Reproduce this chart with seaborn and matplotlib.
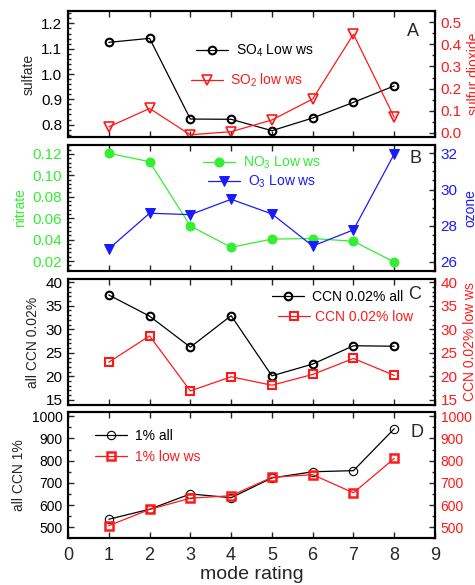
import seaborn as sns
import matplotlib.pyplot as plt
from matplotlib.ticker import MultipleLocator

sns.set_style("ticks")
plt.rcParams['font.family'] = ['Liberation Sans', 'DejaVu Sans']
plt.rcParams['mathtext.fontset'] = 'custom'
plt.rcParams['mathtext.rm'] = 'Liberation Sans'
plt.rcParams['mathtext.it'] = 'Liberation Sans:italic'

GREEN = '#33ee33'
RED = '#ff1a1a'
BLUE = '#1a1aff'

# data
mode = [1, 2, 3, 4, 5, 6, 7, 8]
sulfate = [1.125, 1.141, 0.822, 0.821, 0.776, 0.826, 0.888, 0.953]
so2 = [0.027, 0.110, -0.009, 0.005, 0.058, 0.153, 0.446, 0.070]
nitrate = [0.1206, 0.1128, 0.0527, 0.0328, 0.0405, 0.0410, 0.0385, 0.0190]
ozone = [26.72, 28.69, 28.61, 29.46, 28.65, 26.88, 27.77, 31.96]
ccn002_all = [37.3, 32.8, 26.2, 32.9, 20.1, 22.6, 26.5, 26.4]
ccn002_low = [23.0, 28.6, 16.9, 19.9, 18.1, 20.4, 23.8, 20.2]
ccn1_all = [536, 581, 650, 633, 722, 750, 755, 944]
ccn1_low = [507, 580, 631, 642, 725, 737, 655, 810]
xticks = [0, 1, 2, 3, 4, 5, 6, 7, 8, 9]

fig = plt.figure(figsize=(4.75, 5.85), dpi=100)
L, W, H = 0.1432, 0.7726, 0.2154
bottoms = [0.7658, 0.5368, 0.3077, 0.0798]


def style(ax, ax2, lcol, rcol, fs=11):
    for a in (ax, ax2):
        for s in a.spines.values():
            s.set_linewidth(1.5)
            s.set_color('black')
    ax.set_xlim(0, 9)
    ax.set_xticks(xticks)
    ax.tick_params(axis='x', direction='in', top=True, bottom=True,
                   length=4.5, width=1, labelbottom=False)
    ax.tick_params(axis='y', which='both', direction='in', left=True, right=False,
                   labelcolor=lcol, labelsize=fs, width=1, pad=4)
    ax2.tick_params(axis='y', which='both', direction='in', right=True, left=False,
                    labelcolor=rcol, labelsize=fs, width=1, pad=4)
    for a in (ax, ax2):
        a.tick_params(axis='y', which='major', length=4.5)
        a.tick_params(axis='y', which='minor', length=2.2)


def leg(a, label, x, y, tpad=0.6):
    a.legend(handles=[a.lines[-1]], labels=[label], loc='center left',
             bbox_to_anchor=(x, y), frameon=False, borderpad=0, borderaxespad=0,
             handlelength=2.3, handletextpad=tpad, fontsize=10, labelcolor='linecolor')


# ---- A: sulfate / SO2
ax = fig.add_axes([L, bottoms[0], W, H])
ax2 = ax.twinx()
sns.lineplot(x=mode, y=sulfate, ax=ax, color='black', lw=0.9, marker='o', ms=5.5,
             mfc='none', mec='black', mew=1.5)
sns.lineplot(x=mode, y=so2, ax=ax2, color=RED, lw=0.9, marker='v', ms=6.5,
             mfc='none', mec=RED, mew=1.2)
ax.set_ylim(0.751, 1.249)
ax2.set_ylim(-0.019, 0.551)
ax.yaxis.set_major_locator(MultipleLocator(0.1))
ax.yaxis.set_minor_locator(MultipleLocator(0.02))
ax2.yaxis.set_major_locator(MultipleLocator(0.1))
ax2.yaxis.set_minor_locator(MultipleLocator(0.05))
style(ax, ax2, 'black', RED)
leg(ax, 'SO$_4$ Low ws', 0.349, 0.685)
leg(ax2, 'SO$_2$ low ws', 0.335, 0.447, 0.5)
ax.set_ylabel('sulfate', fontsize=10)
ax2.set_ylabel('sulfur dioxide', fontsize=10, color=RED)
ax.text(0.941, 0.836, 'A', transform=ax.transAxes, ha='center', va='center', fontsize=13)

# ---- B: nitrate / ozone
ax = fig.add_axes([L, bottoms[1], W, H])
ax2 = ax.twinx()
sns.lineplot(x=mode, y=nitrate, ax=ax, color=GREEN, lw=0.9, marker='o', ms=6.5,
             mfc=GREEN, mec=GREEN, mew=0.7)
sns.lineplot(x=mode, y=ozone, ax=ax2, color=BLUE, lw=0.9, marker='v', ms=7,
             mfc=BLUE, mec=BLUE, mew=0.7)
ax.set_ylim(0.0107, 0.1284)
ax2.set_ylim(25.5, 32.46)
ax.yaxis.set_major_locator(MultipleLocator(0.02))
ax.yaxis.set_minor_locator(MultipleLocator(0.004))
ax2.yaxis.set_major_locator(MultipleLocator(2))
ax2.yaxis.set_minor_locator(MultipleLocator(0.5))
style(ax, ax2, GREEN, BLUE)
leg(ax, 'NO$_3$ Low ws', 0.368, 0.857)
leg(ax2, 'O$_3$ Low ws', 0.381, 0.709)
ax.set_ylabel('nitrate', fontsize=10, color=GREEN)
ax2.set_ylabel('ozone', fontsize=10, color=BLUE)
ax.text(0.9455, 0.889, 'B', transform=ax.transAxes, ha='center', va='center', fontsize=13)

# ---- C: CCN 0.02%
ax = fig.add_axes([L, bottoms[2], W, H])
ax2 = ax.twinx()
sns.lineplot(x=mode, y=ccn002_all, ax=ax, color='black', lw=0.9, marker='o', ms=5.5,
             mfc='none', mec='black', mew=1.5)
sns.lineplot(x=mode, y=ccn002_low, ax=ax2, color=RED, lw=0.9, marker='s', ms=5.5,
             mfc='none', mec=RED, mew=1.5)
ax.set_ylim(13.9, 40.7)
ax2.set_ylim(13.9, 40.7)
for a in (ax, ax2):
    a.yaxis.set_major_locator(MultipleLocator(5))
    a.yaxis.set_minor_locator(MultipleLocator(1))
style(ax, ax2, 'black', RED)
leg(ax, 'CCN 0.02% all', 0.556, 0.86)
leg(ax2, 'CCN 0.02% low', 0.572, 0.696, 0.4)
ax.set_ylabel('all CCN 0.02%', fontsize=10)
ax2.set_ylabel('CCN 0.02% low ws', fontsize=10, color=RED)
ax.text(0.944, 0.873, 'C', transform=ax.transAxes, ha='center', va='center', fontsize=13)

# ---- D: CCN 1%
ax = fig.add_axes([L, bottoms[3], W, H])
ax2 = ax.twinx()
sns.lineplot(x=mode, y=ccn1_all, ax=ax, color='black', lw=0.9, marker='o', ms=6,
             mfc='none', mec='black', mew=0.8)
sns.lineplot(x=mode, y=ccn1_low, ax=ax2, color=RED, lw=0.9, marker='s', ms=5.5,
             mfc='none', mec=RED, mew=1.8)
ax.set_ylim(450, 1018)
ax2.set_ylim(450, 1018)
for a in (ax, ax2):
    a.yaxis.set_major_locator(MultipleLocator(100))
    a.yaxis.set_minor_locator(MultipleLocator(50))
style(ax, ax2, 'black', RED, fs=10)
ax.tick_params(axis='x', labelbottom=True, labelsize=13, pad=6)
leg(ax, '1% all', 0.0736, 0.814)
leg(ax2, '1% low ws', 0.0736, 0.645)
ax.set_ylabel('all CCN 1%', fontsize=10)
ax2.set_ylabel('CCN 1% low ws', fontsize=10, color=RED)
ax.set_xlabel('mode rating', fontsize=14, labelpad=2)
ax.text(0.952, 0.841, 'D', transform=ax.transAxes, ha='center', va='center', fontsize=13)

fig.savefig('out.png', dpi=100)
